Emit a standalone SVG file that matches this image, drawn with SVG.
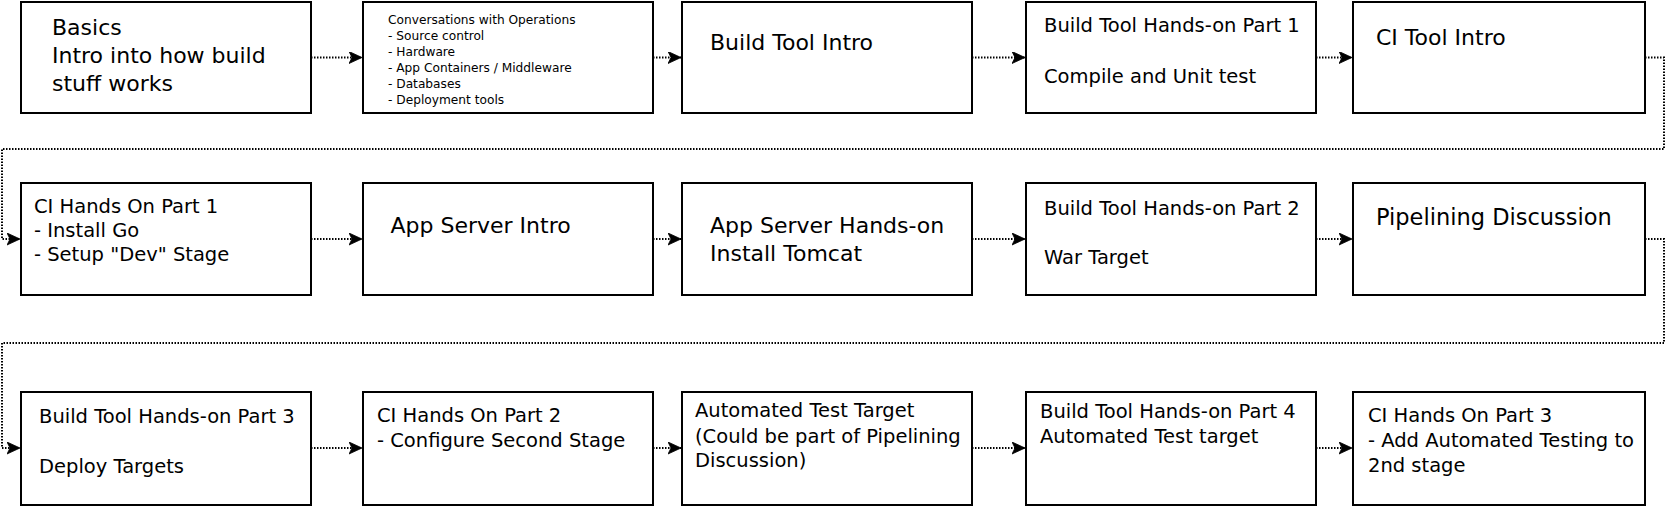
<svg xmlns="http://www.w3.org/2000/svg" width="1667" height="508" viewBox="0 0 1667 508">
<style>
.box{fill:#fff;stroke:#000;stroke-width:2}
.t{font-family:"DejaVu Sans","Liberation Sans",sans-serif;fill:#000}
.m{font-size:19.5px}
.l{font-size:22px}
.s{font-size:12.2px}
.c{fill:none;stroke:#000;stroke-width:2;stroke-dasharray:1.5 1.5}
</style>
<defs>
<marker id="arr" markerUnits="userSpaceOnUse" markerWidth="14" markerHeight="13" refX="13" refY="6" orient="auto">
<path d="M0,0 L13,6 L0,12 L3,6 Z" fill="#000" stroke="#000" stroke-width="0.8" stroke-linejoin="miter"/>
</marker>
</defs>
<rect width="1667" height="508" fill="#fff"/>
<g id="connectors">
<path class="c" d="M311,57.5 H362" marker-end="url(#arr)"/>
<path class="c" d="M653,57.5 H681" marker-end="url(#arr)"/>
<path class="c" d="M972,57.5 H1025" marker-end="url(#arr)"/>
<path class="c" d="M1316,57.5 H1352" marker-end="url(#arr)"/>
<path class="c" d="M1645,57.5 H1664 V149 H2 V239 H20" marker-end="url(#arr)"/>
<path class="c" d="M311,239 H362" marker-end="url(#arr)"/>
<path class="c" d="M653,239 H681" marker-end="url(#arr)"/>
<path class="c" d="M972,239 H1025" marker-end="url(#arr)"/>
<path class="c" d="M1316,239 H1352" marker-end="url(#arr)"/>
<path class="c" d="M1645,239 H1664 V343 H2 V448 H20" marker-end="url(#arr)"/>
<path class="c" d="M311,448 H362" marker-end="url(#arr)"/>
<path class="c" d="M653,448 H681" marker-end="url(#arr)"/>
<path class="c" d="M972,448 H1025" marker-end="url(#arr)"/>
<path class="c" d="M1316,448 H1352" marker-end="url(#arr)"/>
</g>
<g id="n1"><rect class="box" x="21" y="2" width="290" height="111"/>
<text class="t l" x="52" y="35">Basics</text><text class="t l" x="52" y="63">Intro into how build</text><text class="t l" x="52" y="90.5">stuff works</text></g>
<g id="n2"><rect class="box" x="363" y="2" width="290" height="111"/>
<text class="t s" x="388" y="24">Conversations with Operations</text>
<text class="t s" x="388" y="40">- Source control</text>
<text class="t s" x="388" y="56">- Hardware</text>
<text class="t s" x="388" y="72">- App Containers / Middleware</text>
<text class="t s" x="388" y="88">- Databases</text>
<text class="t s" x="388" y="103.5">- Deployment tools</text></g>
<g id="n3"><rect class="box" x="682" y="2" width="290" height="111"/>
<text class="t l" x="710" y="50">Build Tool Intro</text></g>
<g id="n4"><rect class="box" x="1026" y="2" width="290" height="111"/>
<text class="t m" x="1044" y="32">Build Tool Hands-on Part 1</text><text class="t m" x="1044" y="83">Compile and Unit test</text></g>
<g id="n5"><rect class="box" x="1353" y="2" width="292" height="111"/>
<text class="t l" x="1376" y="45">CI Tool Intro</text></g>
<g id="n6"><rect class="box" x="21" y="183" width="290" height="112"/>
<text class="t m" x="34" y="212.5">CI Hands On Part 1</text><text class="t m" x="34" y="237">- Install Go</text><text class="t m" x="34" y="261">- Setup "Dev" Stage</text></g>
<g id="n7"><rect class="box" x="363" y="183" width="290" height="112"/>
<text class="t l" x="390.5" y="233">App Server Intro</text></g>
<g id="n8"><rect class="box" x="682" y="183" width="290" height="112"/>
<text class="t l" x="710" y="233">App Server Hands-on</text><text class="t l" x="710" y="260.5">Install Tomcat</text></g>
<g id="n9"><rect class="box" x="1026" y="183" width="290" height="112"/>
<text class="t m" x="1044" y="215">Build Tool Hands-on Part 2</text><text class="t m" x="1044" y="264">War Target</text></g>
<g id="n10"><rect class="box" x="1353" y="183" width="292" height="112"/>
<text class="t l" x="1376" y="225" style="font-size:22.5px">Pipelining Discussion</text></g>
<g id="n11"><rect class="box" x="21" y="392" width="290" height="113"/>
<text class="t m" x="39" y="423">Build Tool Hands-on Part 3</text><text class="t m" x="39" y="473">Deploy Targets</text></g>
<g id="n12"><rect class="box" x="363" y="392" width="290" height="113"/>
<text class="t m" x="377" y="422">CI Hands On Part 2</text><text class="t m" x="377" y="447">- Configure Second Stage</text></g>
<g id="n13"><rect class="box" x="682" y="392" width="290" height="113"/>
<text class="t m" x="695" y="416.5">Automated Test Target</text><text class="t m" x="695" y="442.5">(Could be part of Pipelining</text><text class="t m" x="695" y="467">Discussion)</text></g>
<g id="n14"><rect class="box" x="1026" y="392" width="290" height="113"/>
<text class="t m" x="1040" y="418">Build Tool Hands-on Part 4</text><text class="t m" x="1040" y="443">Automated Test target</text></g>
<g id="n15"><rect class="box" x="1353" y="392" width="292" height="113"/>
<text class="t m" x="1368" y="422">CI Hands On Part 3</text><text class="t m" x="1368" y="447">- Add Automated Testing to</text><text class="t m" x="1368" y="472">2nd stage</text></g>
</svg>
